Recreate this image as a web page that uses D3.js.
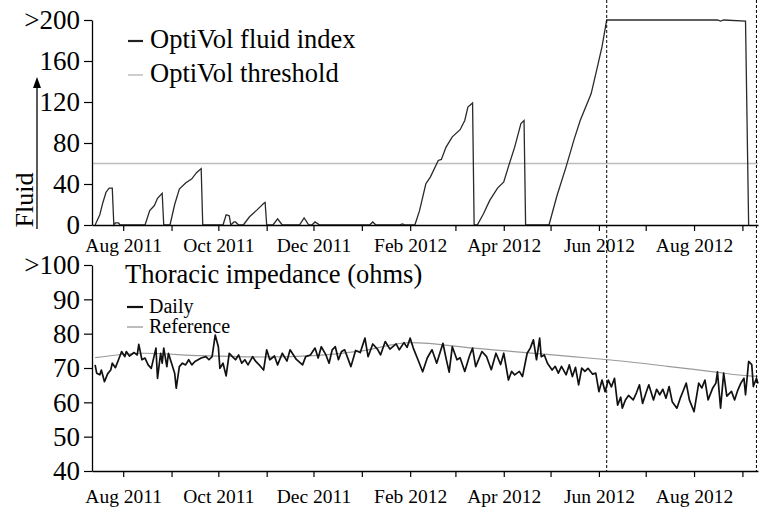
<!DOCTYPE html>
<html><head><meta charset="utf-8">
<script src="https://cdn.jsdelivr.net/npm/d3@7"></script>
<style>
html,body{margin:0;padding:0;background:#fff;}
svg{display:block;}
text{font-family:"Liberation Serif","Times New Roman",serif;fill:#000;}
</style></head>
<body><svg id="c" width="765" height="523"></svg>
<script>
// ---------- DATA ----------
const fluidDates = ["2011-07-14","2011-07-17","2011-07-19","2011-07-21","2011-07-23","2011-07-25","2011-07-26","2011-07-27","2011-07-29","2011-07-30",
"2011-08-15","2011-08-18","2011-08-21","2011-08-23","2011-08-26","2011-08-27","2011-08-31","2011-09-03","2011-09-06","2011-09-10",
"2011-09-14","2011-09-17","2011-09-20","2011-09-21","2011-10-04","2011-10-06","2011-10-08","2011-10-09","2011-10-11","2011-10-12",
"2011-10-14","2011-10-17","2011-10-21","2011-10-26","2011-10-30","2011-10-31","2011-11-01","2011-11-05","2011-11-08","2011-11-11",
"2011-11-22","2011-11-25","2011-11-28","2011-11-30","2011-12-02","2011-12-05","2012-01-06","2012-01-08","2012-01-10","2012-01-25",
"2012-01-27","2012-01-29","2012-02-04","2012-02-07","2012-02-11","2012-02-14","2012-02-19","2012-02-21","2012-02-24","2012-02-28",
"2012-03-04","2012-03-07","2012-03-09","2012-03-12","2012-03-13","2012-03-15","2012-03-19","2012-03-23","2012-03-28","2012-04-01",
"2012-04-04","2012-04-08","2012-04-12","2012-04-14","2012-04-15","2012-04-30","2012-05-05","2012-05-11","2012-05-16","2012-05-20",
"2012-05-27","2012-05-31","2012-06-03","2012-06-06","2012-08-16","2012-08-18","2012-08-20","2012-09-03","2012-09-05"];
const fluidValues = [0,10,22,32,36,36,0,2,2,0,
0,14,19,26,31,0,0,20,35,41,
45,51,55,0,0,10,9,0,3,3,
0,0,8,15,21,22,0,0,6,0,
0,7,0,0,3,0,0,3,0,0,
1,0,0,14,40,47,63,64,76,86,
93,102,115,119,0,0,11,24,36,42,
57,76,99,102,0,0,28,57,83,102,
128,154,174,200,200,199,200,199,0];
const fluidThreshold = 60;

const impDates = ["2011-07-14","2011-07-15","2011-07-17","2011-07-18","2011-07-20","2011-07-22","2011-07-24","2011-07-25","2011-07-27","2011-07-29",
"2011-07-31","2011-08-02","2011-08-03","2011-08-05","2011-08-08","2011-08-10","2011-08-11","2011-08-13","2011-08-15","2011-08-17",
"2011-08-19","2011-08-22","2011-08-23","2011-08-25","2011-08-26","2011-08-27","2011-08-29","2011-08-30","2011-09-01","2011-09-03",
"2011-09-04","2011-09-06","2011-09-08","2011-09-10","2011-09-12","2011-09-14","2011-09-16","2011-09-18","2011-09-20","2011-09-23",
"2011-09-25","2011-09-27","2011-09-29","2011-10-01","2011-10-02","2011-10-04","2011-10-06","2011-10-08","2011-10-10","2011-10-12",
"2011-10-14","2011-10-16","2011-10-18","2011-10-20","2011-10-23","2011-10-25","2011-10-27","2011-10-30","2011-11-01","2011-11-03",
"2011-11-06","2011-11-08","2011-11-11","2011-11-14","2011-11-16","2011-11-20","2011-11-24","2011-11-26","2011-11-29","2011-12-02",
"2011-12-04","2011-12-06","2011-12-09","2011-12-11","2011-12-13","2011-12-15","2011-12-17","2011-12-19","2011-12-21","2011-12-25",
"2011-12-28","2011-12-31","2012-01-03","2012-01-05","2012-01-08","2012-01-11","2012-01-13","2012-01-16","2012-01-19","2012-01-23",
"2012-01-25","2012-01-28","2012-01-30","2012-02-01","2012-02-03","2012-02-06","2012-02-09","2012-02-12","2012-02-15","2012-02-18",
"2012-02-22","2012-02-24","2012-02-26","2012-02-28","2012-03-02","2012-03-04","2012-03-07","2012-03-10","2012-03-12","2012-03-14",
"2012-03-18","2012-03-21","2012-03-24","2012-03-27","2012-03-30","2012-04-01","2012-04-04","2012-04-06","2012-04-08","2012-04-11",
"2012-04-13","2012-04-16","2012-04-18","2012-04-20","2012-04-22","2012-04-24","2012-04-25","2012-04-27","2012-04-29","2012-05-02",
"2012-05-04","2012-05-06","2012-05-08","2012-05-11","2012-05-13","2012-05-15","2012-05-17","2012-05-19","2012-05-21","2012-05-23",
"2012-05-25","2012-05-28","2012-05-30","2012-06-01","2012-06-03","2012-06-05","2012-06-07","2012-06-09","2012-06-11","2012-06-13",
"2012-06-15","2012-06-16","2012-06-18","2012-06-20","2012-06-23","2012-06-25","2012-06-27","2012-06-29","2012-07-01","2012-07-03",
"2012-07-06","2012-07-08","2012-07-10","2012-07-12","2012-07-14","2012-07-16","2012-07-18","2012-07-21","2012-07-23","2012-07-25",
"2012-07-27","2012-07-29","2012-08-01","2012-08-04","2012-08-06","2012-08-08","2012-08-10","2012-08-13","2012-08-15","2012-08-16",
"2012-08-18","2012-08-20","2012-08-22","2012-08-25","2012-08-27","2012-08-29","2012-08-31","2012-09-02","2012-09-03","2012-09-05",
"2012-09-07","2012-09-08","2012-09-10","2012-09-11"];
const impValues = [70.9,68.5,68.0,69.4,66.0,68.3,69.4,71.4,70.1,72.4,
74.8,73.3,74.8,73.5,74.5,73.8,76.9,72.4,72.9,70.9,
69.9,75.8,67.0,74.3,71.4,75.8,70.4,74.3,71.4,68.5,
64.1,70.4,71.4,70.9,72.4,70.9,71.9,72.4,72.9,73.3,
72.4,73.3,79.6,76.2,69.9,71.4,67.7,74.3,73.3,72.4,
73.8,71.4,72.4,70.9,73.3,71.9,71.0,69.4,75.3,72.4,
73.5,70.9,74.3,72.0,75.3,72.5,70.9,73.3,73.8,75.8,
72.9,76.2,73.8,71.4,75.3,76.2,72.4,74.8,75.3,70.4,
75.1,74.5,78.7,73.3,77.0,75.5,73.8,77.7,75.5,77.0,
75.3,77.4,76.0,78.7,75.8,72.4,68.9,73.0,75.3,71.4,
77.2,72.8,68.8,76.2,72.4,73.0,69.0,73.5,75.8,70.4,
74.8,73.3,69.5,74.3,71.0,74.3,66.5,69.0,68.0,69.0,
67.5,74.3,75.8,78.2,72.4,78.7,73.3,73.8,71.4,69.4,
70.5,68.5,70.5,68.0,70.9,67.5,70.2,65.1,70.0,69.0,
69.9,68.2,68.5,63.1,66.5,63.1,66.5,64.5,67.0,59.2,
61.5,58.3,60.7,62.0,60.7,62.7,65.1,59.7,62.5,65.1,
60.7,63.8,62.2,63.8,61.2,64.6,60.2,58.3,61.0,63.3,
65.6,60.7,57.3,65.6,64.2,66.5,60.7,64.2,65.6,68.9,
58.3,68.5,61.8,63.2,60.7,63.5,65.6,67.0,62.2,71.9,
71.0,64.6,67.0,65.5];

const refDates = ["2011-07-14","2011-08-14","2011-09-20","2011-11-01","2011-12-01","2012-01-01","2012-02-01","2012-03-15","2012-04-15","2012-05-15","2012-06-07","2012-07-15","2012-08-15","2012-09-05","2012-09-11"];
const refValues = [73.0,74.3,73.6,73.2,73.6,75.0,77.4,75.7,74.5,73.3,72.4,70.5,68.8,67.7,67.6];

const eventDates = ["2012-06-06","2012-09-10"];

const xDomain = ["2011-07-12","2012-09-11"];
const labelMonths = ["2011-08","2011-10","2011-12","2012-02","2012-04","2012-06","2012-08"];
const fluidTicks = [0,40,80,120,160,200];
const fluidTickLabels = ["0","40","80","120","160",">200"];
const impTicks = [40,50,60,70,80,90,100];
const impTickLabels = ["40","50","60","70","80","90",">100"];
const fluidLegend = ["OptiVol fluid index","OptiVol threshold"];
const impTitle = "Thoracic impedance (ohms)";
const impLegend = ["Daily","Reference"];

// ---------- CHART ----------
const parse = d3.timeParse("%Y-%m-%d");
const svg = d3.select("#c");
const x = d3.scaleTime().domain(xDomain.map(parse)).range([92, 758]);
const yF = d3.scaleLinear().domain([0, 200]).range([225, 20]);
const yI = d3.scaleLinear().domain([40, 100]).range([471, 265]);
const fmt = d3.timeFormat("%b %Y");
const fmtKey = d3.timeFormat("%Y-%m");

function xAxis(yPos, labelY) {
  const g = svg.append("g").attr("transform", `translate(0,${yPos})`)
    .call(d3.axisBottom(x).ticks(d3.timeMonth.every(1)).tickSize(6).tickSizeOuter(0)
      .tickFormat(d => labelMonths.includes(fmtKey(d)) ? fmt(d) : ""));
  g.select(".domain").attr("stroke", "#000").attr("stroke-width", 1.3);
  g.selectAll(".tick line").attr("stroke", "#000").attr("stroke-width", 1.2);
  g.selectAll("text").attr("y", labelY).attr("dy", 0).style("font-size", "19.5px")
    .style("font-family", '"Liberation Serif","Times New Roman",serif').attr("fill", "#000");
}
function yAxis(scale, ticks, labels) {
  const g = svg.append("g").attr("transform", "translate(92,0)")
    .call(d3.axisLeft(scale).tickValues(ticks).tickSize(8).tickPadding(4).tickSizeOuter(0)
      .tickFormat((d, i) => labels[i]));
  g.select(".domain").attr("stroke", "#000").attr("stroke-width", 1.3);
  g.selectAll(".tick line").attr("stroke", "#000").attr("stroke-width", 1.2);
  g.selectAll("text").attr("dy", "0.33em").style("font-size", "27px")
    .style("font-family", '"Liberation Serif","Times New Roman",serif').attr("fill", "#000");
}

// threshold
svg.append("line").attr("x1", x.range()[0]).attr("x2", x.range()[1])
  .attr("y1", yF(fluidThreshold)).attr("y2", yF(fluidThreshold))
  .attr("stroke", "#bdbdbd").attr("stroke-width", 1.5);

// fluid line
const fluidData = fluidDates.map((d, i) => ({ d: parse(d), v: fluidValues[i] }));
svg.append("path").datum(fluidData)
  .attr("d", d3.line().x(p => x(p.d)).y(p => yF(p.v)))
  .attr("fill", "none").attr("stroke", "#2a2a2a").attr("stroke-width", 1.3);

// reference line
const refData = refDates.map((d, i) => ({ d: parse(d), v: refValues[i] }));
svg.append("path").datum(refData)
  .attr("d", d3.line().curve(d3.curveMonotoneX).x(p => x(p.d)).y(p => yI(p.v)))
  .attr("fill", "none").attr("stroke", "#9a9a9a").attr("stroke-width", 1.2);

// daily impedance
const impData = impDates.map((d, i) => ({ d: parse(d), v: impValues[i] }));
svg.append("path").datum(impData)
  .attr("d", d3.line().x(p => x(p.d)).y(p => yI(p.v)))
  .attr("fill", "none").attr("stroke", "#111").attr("stroke-width", 1.7)
  .attr("stroke-linejoin", "round");

xAxis(225, 27);
xAxis(471, 32);
yAxis(yF, fluidTicks, fluidTickLabels);
yAxis(yI, impTicks, impTickLabels);

// event dashed lines
eventDates.forEach(d => {
  svg.append("line").attr("x1", x(parse(d))).attr("x2", x(parse(d)))
    .attr("y1", 0).attr("y2", 471)
    .attr("stroke", "#000").attr("stroke-width", 1).attr("stroke-dasharray", "3,2");
});

// top legend
[["#222", 48], ["#bdbdbd", 82]].forEach((s, i) => {
  svg.append("line").attr("x1", 128).attr("x2", 143).attr("y1", s[1] - 7).attr("y2", s[1] - 7)
    .attr("stroke", s[0]).attr("stroke-width", i === 0 ? 2.2 : 1.5);
  svg.append("text").attr("x", 150).attr("y", s[1]).style("font-size", "26.5px").text(fluidLegend[i]);
});

// bottom title & legend
svg.append("text").attr("x", 125).attr("y", 283).style("font-size", "26.5px").text(impTitle);
[["#111", 313], ["#9a9a9a", 333]].forEach((s, i) => {
  svg.append("line").attr("x1", 127).attr("x2", 143).attr("y1", s[1] - 6).attr("y2", s[1] - 6)
    .attr("stroke", s[0]).attr("stroke-width", i === 0 ? 2.2 : 1.3);
  svg.append("text").attr("x", 149).attr("y", s[1]).style("font-size", "20px").text(impLegend[i]);
});

// Fluid axis label + arrow
svg.append("text").attr("transform", "translate(33,200) rotate(-90)")
  .attr("text-anchor", "middle").style("font-size", "26px").text("Fluid");
svg.append("line").attr("x1", 37).attr("x2", 37).attr("y1", 229).attr("y2", 86)
  .attr("stroke", "#000").attr("stroke-width", 1.3);
svg.append("path").attr("d", "M37,77 L33,88 L41,88 Z").attr("fill", "#000");
</script></body></html>
